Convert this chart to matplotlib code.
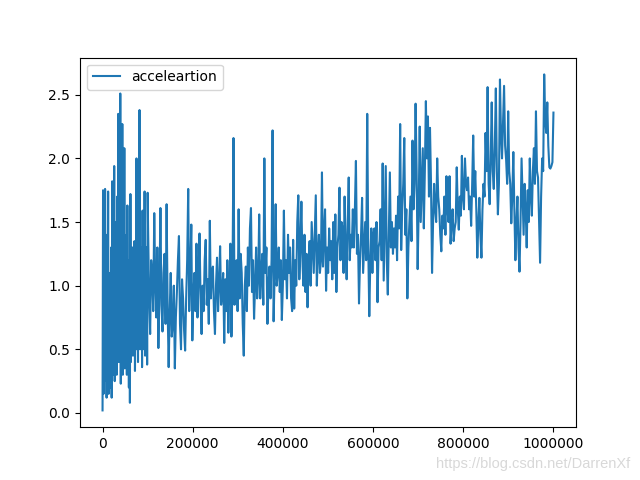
import matplotlib
matplotlib.use("Agg")
import matplotlib.pyplot as plt
import numpy as np

# acceleration readings, dense logging over the first 100k steps
early_accel = [
    0.02, 1.75, 0.15, 1.2, 0.25, 1.76,
    0.3, 0.9, 0.12, 1.4, 0.5, 1.74,
    0.15, 1.1, 0.35, 0.8, 0.2, 1.3,
    0.12, 1.82, 0.4, 1.0, 0.3, 1.94,
    0.25, 1.5, 0.6, 1.2, 0.3, 1.7,
    0.5, 2.35, 0.4, 1.0, 0.6, 2.51,
    0.23, 1.6, 0.5, 2.27, 0.3, 1.2,
    0.6, 2.08, 0.35, 1.1, 0.5, 1.4,
    0.3, 1.63, 0.7, 1.0, 0.2, 1.2,
    0.08, 1.72, 0.4, 0.9, 0.6, 1.3,
    0.45, 1.1, 0.7, 1.35, 0.33, 0.95,
    0.5, 2.0, 0.6, 1.2, 0.4, 1.5,
    0.7, 2.38, 0.5, 1.0, 0.8, 1.3,
    0.36, 1.59, 0.6, 1.1, 0.5, 1.74,
    0.45, 1.2, 0.7, 1.3, 0.38, 1.73,
]

# sparser logging afterwards
late_accel = [
    1.45, 0.9, 0.62, 1.2, 1.09, 0.8, 1.57, 1.0, 0.75, 1.3, 0.51, 0.95, 1.61, 0.85, 0.64, 1.1, 1.25, 0.7, 1.64, 0.82,
    0.36, 0.8, 1.1, 0.6, 0.7, 1.0, 0.35, 0.75, 0.95, 1.2, 1.39, 0.7, 0.5, 1.05, 0.9, 0.65, 0.49, 0.9, 1.2, 1.76,
    0.8, 1.1, 1.48, 0.57, 0.9, 1.1, 0.8, 1.33, 0.75, 1.05, 1.41, 0.9, 0.62, 1.0, 0.8, 1.2, 1.36, 0.85, 1.05, 0.7,
    1.51, 0.9, 1.1, 1.15, 0.8, 0.62, 1.0, 1.22, 0.8, 1.0, 1.31, 0.85, 0.95, 1.1, 0.55, 1.05, 0.8, 1.2, 0.63, 1.0,
    1.33, 0.6, 1.0, 2.16, 0.85, 1.15, 1.2, 0.8, 1.6, 0.9, 1.25, 1.1, 0.7, 0.45, 1.0, 1.15, 0.8, 1.3, 1.0, 1.45,
    1.61, 0.95, 1.2, 0.74, 1.0, 1.3, 0.9, 1.05, 1.56, 0.9, 1.1, 1.25, 0.85, 2.0, 1.1, 1.3, 0.7, 1.0, 1.15, 0.9,
    1.2, 2.22, 0.72, 1.1, 1.64, 1.0, 1.1, 1.3, 0.95, 1.2, 0.73, 1.0, 1.59, 1.05, 1.2, 0.9, 1.4, 1.1, 1.3, 0.9,
    0.8, 1.36, 0.82, 1.2, 1.0, 1.5, 1.71, 1.05, 1.3, 1.66, 1.2, 1.0, 1.4, 0.95, 1.25, 0.83, 1.2, 1.35, 1.0, 1.5,
    1.3, 1.1, 1.4, 1.71, 1.0, 1.25, 1.4, 1.1, 1.2, 1.89, 1.15, 1.4, 1.6, 0.96, 1.3, 1.1, 1.45, 1.2, 1.35, 1.05,
    1.5, 1.1, 1.56, 0.95, 1.3, 1.4, 1.77, 1.2, 1.5, 1.45, 1.1, 1.7, 1.3, 1.05, 1.5, 1.85, 1.2, 1.4, 1.3, 1.6,
    1.3, 1.6, 1.98, 1.25, 1.4, 0.86, 1.2, 1.4, 1.69, 1.1, 1.3, 1.5, 1.2, 2.35, 1.3, 0.76, 1.2, 1.45, 1.1, 1.4,
    1.45, 1.2, 1.5, 0.87, 1.3, 1.35, 1.6, 1.2, 1.96, 1.04, 1.5, 1.94, 1.2, 0.93, 1.4, 1.89, 1.3, 1.5, 1.25, 1.45,
    1.3, 1.55, 1.2, 1.7, 1.45, 2.27, 1.28, 1.6, 1.8, 2.16, 1.4, 1.6, 0.9, 1.3, 1.5, 1.7, 1.35, 2.14, 1.6, 1.8,
    2.43, 1.9, 1.13, 1.6, 2.25, 1.5, 1.8, 2.08, 1.45, 1.9, 2.45, 2.0, 2.33, 1.7, 2.24, 1.8, 1.10, 1.5, 1.8, 1.6,
    1.5, 2.0, 1.7, 1.6, 1.4, 1.27, 1.55, 1.45, 1.7, 1.4, 1.86, 1.6, 1.5, 1.86, 1.33, 1.5, 1.6, 1.35, 1.45, 1.5,
    1.93, 1.6, 1.44, 1.7, 1.55, 2.02, 1.7, 1.6, 2.0, 1.8, 1.75, 1.85, 1.6, 1.7, 1.47, 1.8, 2.18, 1.7, 1.9, 1.6,
    1.22, 1.5, 1.69, 1.4, 1.22, 1.6, 1.8, 1.7, 2.2, 1.9, 2.56, 1.8, 1.64, 2.0, 2.44, 1.9, 1.76, 2.1, 2.55, 1.9,
    1.56, 1.8, 2.62, 2.2, 2.0, 2.3, 2.57, 2.1, 1.99, 1.8, 2.37, 1.9, 1.8, 1.49, 1.7, 2.05, 1.6, 1.2, 1.5, 1.7,
    1.3, 1.11, 1.5, 2.0, 1.7, 1.4, 1.8, 1.6, 1.3, 1.75, 1.5, 2.0, 1.7, 1.55, 1.9, 2.08, 1.8, 2.37, 1.9, 1.85,
    1.5, 1.18, 1.7, 2.0, 1.9, 2.66, 2.3, 2.2, 2.44, 2.1, 1.93, 1.92, 1.94, 1.97, 2.36,
]

early_steps = np.linspace(0, 100000, len(early_accel))
late_steps = np.linspace(101000, 1000000, len(late_accel))

steps = np.concatenate([early_steps, late_steps])
accel = np.array(early_accel + late_accel)

fig, ax = plt.subplots(figsize=(6.4, 4.8), dpi=100)
ax.plot(steps, accel, label="acceleartion")
ax.ticklabel_format(axis="x", style="plain")
ax.legend(loc="upper left")

fig.text(0.985, 0.025, "https://blog.csdn.net/DarrenXf", ha="right",
         color="#d8d8d8", fontsize=10.5, family="Liberation Sans")

fig.savefig("out.png")
plt.close(fig)
